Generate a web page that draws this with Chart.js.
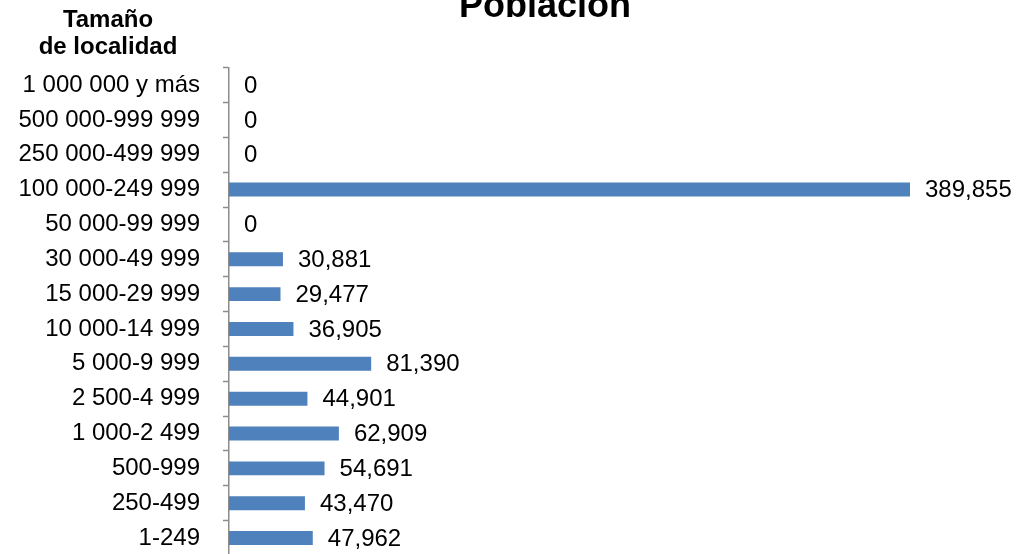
<!DOCTYPE html>
<html>
<head>
<meta charset="utf-8">
<script src="https://cdn.jsdelivr.net/npm/chart.js@4.4.1/dist/chart.umd.min.js"></script>
<style>
    html, body { margin: 0; padding: 0; background: #fff; overflow: hidden; }
    body { width: 1028px; height: 554px; position: relative; font-family: 'Liberation Sans', Arial, sans-serif; }
    #wrap { position: absolute; left: 0; top: 0; width: 1028px; height: 600px; }
    .title { position: absolute; left: 545px; top: -15px; transform: translateX(-50%); font-size: 36px; font-weight: bold; line-height: 40px; white-space: nowrap; }
    .head { position: absolute; left: 108px; top: 5px; transform: translateX(-50%); font-size: 24px; font-weight: bold; line-height: 27px; text-align: center; white-space: nowrap; }
</style>
</head>
<body>
<div id="wrap"><canvas id="chart"></canvas></div>
<div class="title">Población</div>
<div class="head">Tamaño<br>de localidad</div>
<script>
const categories = [
    '1 000 000 y más', '500 000-999 999', '250 000-499 999', '100 000-249 999',
    '50 000-99 999', '30 000-49 999', '15 000-29 999', '10 000-14 999',
    '5 000-9 999', '2 500-4 999', '1 000-2 499', '500-999', '250-499', '1-249',
];
const poblacion = [0, 0, 0, 389855, 0, 30881, 29477, 36905, 81390, 44901, 62909, 54691, 43470, 47962];

Chart.defaults.font.family = "'Liberation Sans', Arial, sans-serif";
Chart.defaults.color = '#000';

const valueLabels = {
    id: 'valueLabels',
    afterDatasetsDraw(chart) {
        const { ctx } = chart;
        const meta = chart.getDatasetMeta(0);
        ctx.save();
        ctx.font = "24px 'Liberation Sans', Arial, sans-serif";
        ctx.fillStyle = '#000';
        ctx.textAlign = 'left';
        ctx.textBaseline = 'middle';
        meta.data.forEach((bar, i) => {
            ctx.fillText(poblacion[i].toLocaleString('en-US'), bar.x + 15, bar.y + 1);
        });
        ctx.restore();
    },
};

new Chart(document.getElementById('chart'), {
    type: 'bar',
    data: {
        labels: categories,
        datasets: [{
            data: poblacion,
            backgroundColor: '#4f81bd',
            borderWidth: 0,
            barPercentage: 0.4,
            categoryPercentage: 1,
        }],
    },
    options: {
        indexAxis: 'y',
        responsive: true,
        maintainAspectRatio: false,
        animation: false,
        layout: { padding: { top: 67.6, bottom: 44.5, left: 0, right: 30.4 } },
        plugins: {
            legend: { display: false },
            tooltip: { enabled: false },
        },
        scales: {
            x: { display: false, min: 0, max: 440000 },
            y: {
                afterFit: (s) => { s.width = 229; },
                grid: { drawOnChartArea: false, tickLength: 6, tickColor: '#8c8c8c', tickWidth: 1.5, offset: true },
                border: { color: '#8c8c8c', width: 1.5 },
                ticks: { font: { size: 24 }, color: '#000', padding: 23 },
            },
        },
    },
    plugins: [valueLabels],
});
</script>
</body>
</html>
